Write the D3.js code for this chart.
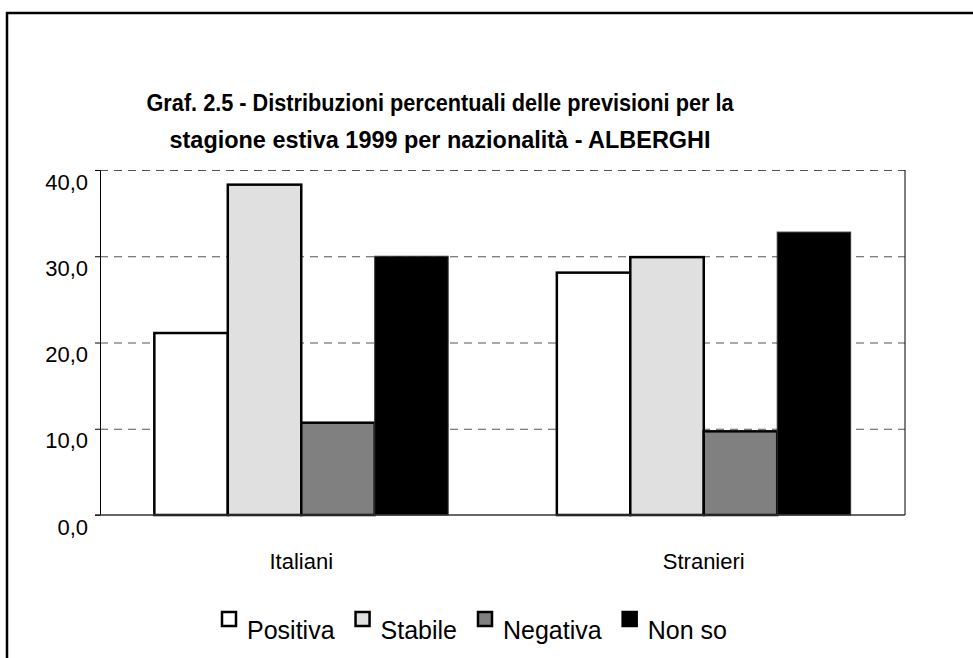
<!DOCTYPE html>
<html>
<head>
<meta charset="utf-8">
<script src="https://cdn.jsdelivr.net/npm/d3@7"></script>
<style>
  body { margin: 0; background: #fff; }
  text { font-family: "Liberation Sans", Arial, sans-serif; fill: #000; }
</style>
</head>
<body>
<svg></svg>
<script>
// data
var categories = ["Italiani", "Stranieri"];
var series = ["Positiva", "Stabile", "Negativa", "Non so"];
var positiva = [21.1, 28.1];
var stabile = [38.3, 29.9];
var negativa = [10.7, 9.7];
var nonSo = [30.0, 32.8];
var yTicks = [0, 10, 20, 30, 40];
var titleLines = ["Graf. 2.5 - Distribuzioni percentuali delle previsioni per la",
                  "stagione estiva 1999 per nazionalità - ALBERGHI"];

var width = 973;
var height = 658;

var svg = d3.select("svg")
            .attr("width", width)
            .attr("height", height);

svg.append("rect")
   .attr("width", width).attr("height", height)
   .attr("fill", "#fff");

// outer frame, runs off the right and bottom edge
svg.append("rect")
   .attr("x", 7).attr("y", 13)
   .attr("width", 1000).attr("height", 700)
   .attr("fill", "none")
   .attr("stroke", "#000")
   .attr("stroke-width", 2.5);

var plotLeft = 100, plotRight = 905, plotTop = 170, plotBottom = 515;

var yScale = d3.scaleLinear()
               .domain([0, 40])
               .range([plotBottom, plotTop]);

var x0 = d3.scaleBand()
           .domain(categories)
           .range([plotLeft, plotRight])
           .paddingInner(0.27)
           .paddingOuter(0.135);

var x1 = d3.scaleBand()
           .domain(series)
           .range([0, x0.bandwidth()]);

var fills = d3.scaleOrdinal()
              .domain(series)
              .range(["#ffffff", "#e0e0e0", "#808080", "#000000"]);

var table = categories.map(function(c, i) {
    return { cat: c, values: [positiva[i], stabile[i], negativa[i], nonSo[i]] };
});

// title
svg.selectAll(".title")
   .data(titleLines)
   .enter().append("text")
   .attr("class", "title")
   .attr("x", 440)
   .attr("y", (d, i) => 111 + i * 37)
   .attr("text-anchor", "middle")
   .attr("textLength", (d, i) => i == 0 ? 587 : 541)
   .attr("lengthAdjust", "spacingAndGlyphs")
   .style("font-size", "23px")
   .style("font-weight", "bold")
   .text(d => d);

// dashed gridlines
svg.append("g")
   .attr("transform", "translate(" + plotLeft + ",0)")
   .call(d3.axisLeft(yScale)
       .tickValues(yTicks.filter(t => t > 0))
       .tickSize(-(plotRight - plotLeft))
       .tickFormat(""))
   .call(g => g.select(".domain").remove())
   .call(g => g.selectAll("line")
       .attr("stroke", "#555")
       .attr("stroke-dasharray", "8,6"));

// right border of plot
svg.append("line")
   .attr("x1", plotRight).attr("x2", plotRight)
   .attr("y1", plotTop).attr("y2", plotBottom)
   .attr("stroke", "#000");

// y axis
var yAxis = svg.append("g")
   .attr("transform", "translate(" + plotLeft + ",0)")
   .call(d3.axisLeft(yScale)
       .tickValues(yTicks)
       .tickSize(5)
       .tickSizeOuter(0)
       .tickPadding(7)
       .tickFormat(d => d3.format(".1f")(d).replace(".", ",")));
yAxis.select(".domain").attr("stroke", "#000");
yAxis.selectAll("line").attr("stroke", "#000");
yAxis.selectAll("text")
   .attr("dy", "19px")
   .style("font-size", "22px")
   .style("font-family", "'Liberation Sans', Arial, sans-serif");

// bars
var groups = svg.selectAll(".grp")
   .data(table)
   .enter().append("g")
   .attr("class", "grp")
   .attr("transform", d => "translate(" + x0(d.cat) + ",0)");

groups.selectAll("rect")
   .data(d => d.values.map((v, i) => ({ key: series[i], value: v })))
   .enter().append("rect")
   .attr("x", d => x1(d.key))
   .attr("y", d => yScale(d.value))
   .attr("width", x1.bandwidth())
   .attr("height", d => yScale(0) - yScale(d.value))
   .attr("fill", d => fills(d.key))
   .attr("stroke", d => d.key == "Non so" ? "#333" : "#000")
   .attr("stroke-width", d => d.key == "Non so" ? 1 : 2.5);

// x axis line
svg.append("line")
   .attr("x1", plotLeft - 5).attr("x2", plotRight)
   .attr("y1", plotBottom).attr("y2", plotBottom)
   .attr("stroke", "#333")
   .attr("stroke-width", 1.5);

// category labels
svg.selectAll(".cat")
   .data(categories)
   .enter().append("text")
   .attr("class", "cat")
   .attr("x", d => x0(d) + x0.bandwidth() / 2)
   .attr("y", 569)
   .attr("text-anchor", "middle")
   .style("font-size", "22px")
   .text(d => d);

// legend
var legend = svg.append("g");
var lx = 222;
series.forEach(function(s) {
    legend.append("rect")
          .attr("x", lx).attr("y", 612)
          .attr("width", 14).attr("height", 14)
          .attr("fill", fills(s))
          .attr("stroke", "#000")
          .attr("stroke-width", 2.5);
    var t = legend.append("text")
          .attr("x", lx + 25)
          .attr("y", 639)
          .style("font-size", "25px")
          .text(s);
    lx = lx + 25 + t.node().getComputedTextLength() + 21;
});
</script>
</body>
</html>
